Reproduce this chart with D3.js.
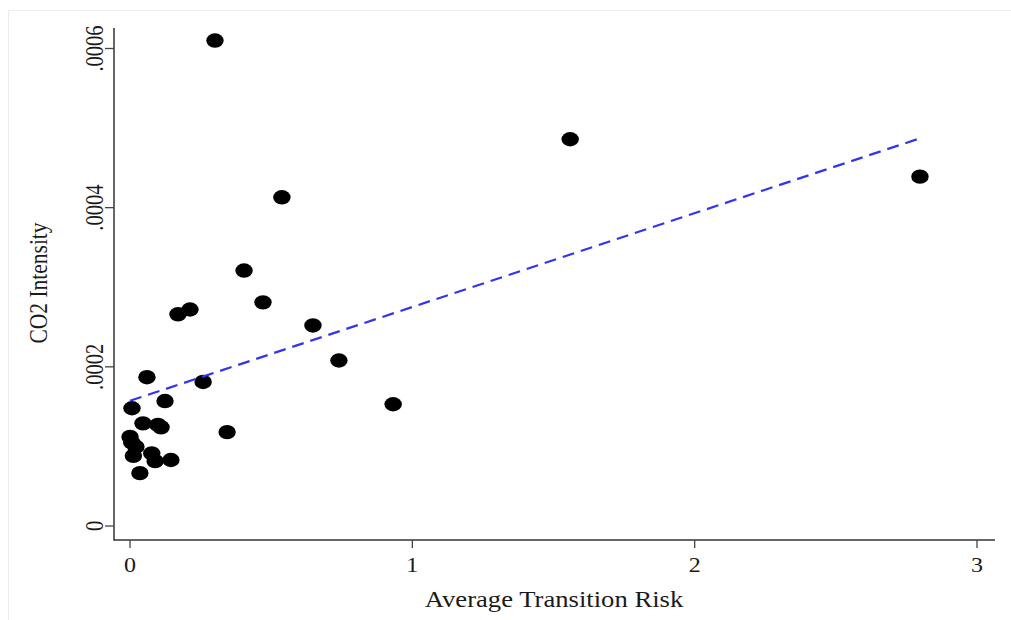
<!DOCTYPE html>
<html>
<head>
<meta charset="utf-8">
<script src="https://cdn.jsdelivr.net/npm/d3@7"></script>
<style>
  body { margin: 0; background: #fff; }
  text { font-family: "Liberation Serif", "Times New Roman", serif; fill: #1a1a1a; }
</style>
</head>
<body>
<div id="chart"></div>
<script>
// Average transition risk (x) vs CO2 intensity (y), one dot per observation
const riskX = [0.301, 1.559, 2.798, 0.538, 0.404, 0.2125, 0.170, 0.471, 0.648, 0.740,
  0.060, 0.259, 0.932, 0.124, 0.007, 0.344, 0.046, 0.099, 0.110, 0.000,
  0.006, 0.021, 0.012, 0.077, 0.089, 0.145, 0.035];
const co2Y = [0.000610, 0.000486, 0.000439, 0.000413, 0.000321, 0.000272, 0.000266, 0.000281, 0.000252, 0.000208,
  0.000187, 0.000181, 0.000153, 0.000157, 0.000148, 0.000118, 0.000129, 0.000127, 0.000124, 0.000112,
  0.000105, 0.0000996, 0.0000882, 0.0000912, 0.0000816, 0.0000829, 0.0000665];

// fitted line end points
const fitX = [0, 2.795];
const fitY = [0.0001573, 0.0004868];

const xTicks = [0, 1, 2, 3];
const yTicks = [0, 0.0002, 0.0004, 0.0006];
const yTickLabels = ["0", ".0002", ".0004", ".0006"];

const width = 1011, height = 620;
const stretch = 1.2; // picture is wider than tall

let svg = d3.select("#chart")
  .append("svg")
  .attr("width", width)
  .attr("height", height);

// faint outer frame
svg.append("path")
  .attr("d", "M8.5," + height + "V10.5H" + width)
  .attr("fill", "none")
  .attr("stroke", "#ececec")
  .attr("stroke-width", 1);

let x = d3.scaleLinear().domain([0, 3]).range([130, 977]);
let y = d3.scaleLinear().domain([0, 0.0006]).range([526, 48.5]);

const axisY = 540, axisX = 114;

// X axis
let gx = svg.append("g").attr("transform", "translate(0," + axisY + ")");
gx.append("line")
  .attr("x1", axisX).attr("x2", 995)
  .attr("stroke", "#333").attr("stroke-width", 1.5);
gx.selectAll(".tick")
  .data(xTicks)
  .enter()
  .append("line")
  .attr("x1", d => x(d)).attr("x2", d => x(d))
  .attr("y1", 0).attr("y2", 8)
  .attr("stroke", "#444").attr("stroke-width", 1.3);
gx.selectAll(".lbl")
  .data(xTicks)
  .enter()
  .append("text")
  .attr("text-anchor", "middle")
  .attr("font-size", 20)
  .attr("transform", d => "translate(" + x(d) + ",32) scale(" + stretch + ",1)")
  .text(d => d);

// Y axis
let gy = svg.append("g").attr("transform", "translate(" + axisX + ",0)");
gy.append("line")
  .attr("y1", 28).attr("y2", axisY + 0.75)
  .attr("stroke", "#333").attr("stroke-width", 1.5);
gy.selectAll(".tick")
  .data(yTicks)
  .enter()
  .append("line")
  .attr("y1", d => y(d)).attr("y2", d => y(d))
  .attr("x1", -9).attr("x2", 0)
  .attr("stroke", "#444").attr("stroke-width", 1.3);
gy.selectAll(".lbl")
  .data(yTicks)
  .enter()
  .append("text")
  .attr("text-anchor", "middle")
  .attr("font-size", 20.5)
  .attr("transform", d => "translate(-11," + y(d) + ") scale(" + stretch + ",1) rotate(-90)")
  .text((d, i) => yTickLabels[i]);

// Axis titles
svg.append("text")
  .attr("text-anchor", "middle")
  .attr("font-size", 22.2)
  .attr("transform", "translate(554,607) scale(" + stretch + ",1)")
  .text("Average Transition Risk");

svg.append("text")
  .attr("text-anchor", "middle")
  .attr("font-size", 21.5)
  .attr("transform", "translate(47,283) scale(" + stretch + ",1) rotate(-90)")
  .text("CO2 Intensity");

// Dots
svg.append("g")
  .selectAll("ellipse")
  .data(riskX)
  .enter()
  .append("ellipse")
  .attr("cx", d => x(d))
  .attr("cy", (d, i) => y(co2Y[i]))
  .attr("rx", 8.7)
  .attr("ry", 7.2)
  .attr("fill", "#000");

// Fitted line
svg.append("line")
  .attr("x1", x(fitX[0])).attr("y1", y(fitY[0]))
  .attr("x2", x(fitX[1])).attr("y2", y(fitY[1]))
  .attr("stroke", "#3333f2")
  .attr("stroke-width", 2.2)
  .attr("stroke-dasharray", "12,7");
</script>
</body>
</html>
